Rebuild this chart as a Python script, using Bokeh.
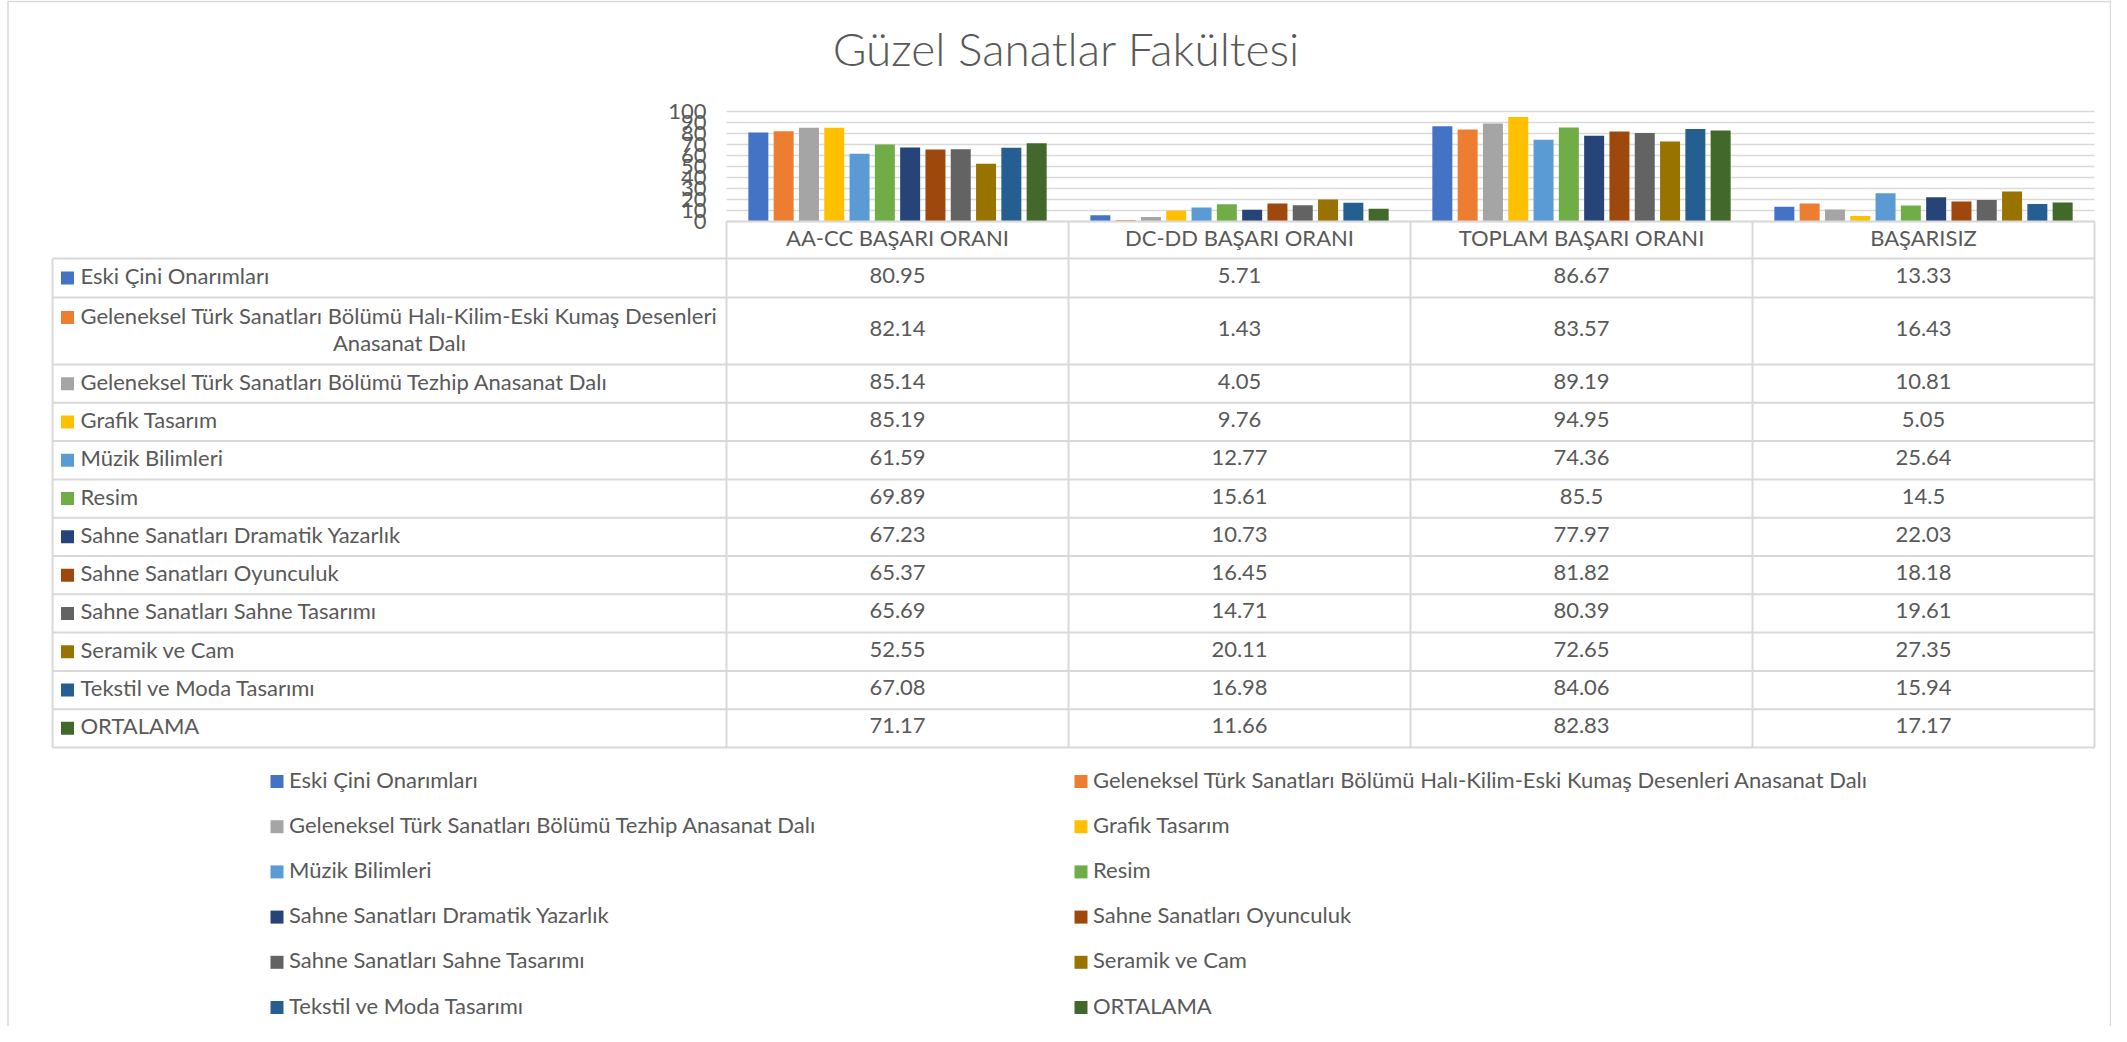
from bokeh.plotting import figure
from bokeh.models import Range1d
from bokeh.core.properties import value
from bokeh.embed import file_html
from bokeh.resources import INLINE

# ---------------- data ----------------
title_text = "Güzel Sanatlar Fakültesi"
categories = ["AA-CC BAŞARI ORANI", "DC-DD BAŞARI ORANI", "TOPLAM BAŞARI ORANI", "BAŞARISIZ"]
series = [
    "Eski Çini Onarımları",
    "Geleneksel Türk Sanatları Bölümü Halı-Kilim-Eski Kumaş Desenleri Anasanat Dalı",
    "Geleneksel Türk Sanatları Bölümü Tezhip Anasanat Dalı",
    "Grafik Tasarım",
    "Müzik Bilimleri",
    "Resim",
    "Sahne Sanatları Dramatik Yazarlık",
    "Sahne Sanatları Oyunculuk",
    "Sahne Sanatları Sahne Tasarımı",
    "Seramik ve Cam",
    "Tekstil ve Moda Tasarımı",
    "ORTALAMA",
]
aa_cc = [80.95, 82.14, 85.14, 85.19, 61.59, 69.89, 67.23, 65.37, 65.69, 52.55, 67.08, 71.17]
dc_dd = [5.71, 1.43, 4.05, 9.76, 12.77, 15.61, 10.73, 16.45, 14.71, 20.11, 16.98, 11.66]
toplam = [86.67, 83.57, 89.19, 94.95, 74.36, 85.5, 77.97, 81.82, 80.39, 72.65, 84.06, 82.83]
basarisiz = [13.33, 16.43, 10.81, 5.05, 25.64, 14.5, 22.03, 18.18, 19.61, 27.35, 15.94, 17.17]
y_ticks = [0, 10, 20, 30, 40, 50, 60, 70, 80, 90, 100]
y_tick_labels = ["0", "10", "20", "30", "40", "50", "60", "70", "80", "90", "100"]

colors = ["#4472C4", "#ED7D31", "#A5A5A5", "#FFC000", "#5B9BD5", "#70AD47",
          "#264478", "#9E480E", "#636363", "#997300", "#255E91", "#43682B"]

columns = [aa_cc, dc_dd, toplam, basarisiz]

# ---------------- layout ----------------
W, H = 2111, 1026
OX, OY = 0, 0
PX0, PX1 = 726, 2094          # plot area left/right
PY0, PY1 = 221, 111           # y pixel of value 0 / value 100
TABLE_X0 = 52
ROW_EDGES = [258, 297, 364]
for _ in range(10):
    ROW_EDGES.append(ROW_EDGES[-1] + 38.3)
BAR_PITCH = 25.3
BAR_W = 20.0
FONT = value("Lato")
TXT = "#595959"
LINE = "#D9D9D9"
FS = "22px"
DY = -2.5   # optical text shift

ppu = (PY0 - PY1) / 100.0
val_start = -((OY + H) - PY0) / ppu
val_end = 100 + (PY1 - OY) / ppu
cw = (PX1 - PX0) / len(categories)
cat_start = (OX - PX0) / cw
cat_end = (OX + W - PX0) / cw

p = figure(width=W, height=H, x_range=Range1d(OX, OX + W), y_range=Range1d(OY + H, OY),
           output_backend="svg", toolbar_location=None, min_border=0)
p.axis.visible = False
p.grid.visible = False
p.outline_line_color = None
p.background_fill_color = "white"
p.extra_y_ranges = {"val": Range1d(val_start, val_end)}
p.extra_x_ranges = {"cat": Range1d(cat_start, cat_end)}

# chart border (left, top, right)
p.segment(x0=[7.5, 7.5, OX + W - 1], x1=[7.5, OX + W - 1, OX + W - 1],
          y0=[OY, OY + 1, OY], y1=[OY + H, OY + 1, OY + H], line_color=LINE, line_width=1.5)

# title
p.text(x=[1066], y=[48], text=[title_text], text_font=value("Lato Light"),
       text_font_size="46px", text_color=TXT, text_align="center", text_baseline="middle")

# gridlines
ncat = len(categories)
p.segment(x0=[0] * len(y_ticks), x1=[ncat] * len(y_ticks), y0=y_ticks, y1=y_ticks,
          x_range_name="cat", y_range_name="val", line_color=LINE, line_width=1.5)

# tick labels
p.text(x=[706] * len(y_ticks), y=y_ticks, text=y_tick_labels, y_range_name="val",
       text_font=FONT, text_font_size=FS, text_color=TXT, text_align="right",
       text_baseline="middle")

# bars
n = len(series)
bx, bt, bc = [], [], []
for ci, col in enumerate(columns):
    for si, v in enumerate(col):
        bx.append(ci + 0.5 + (si - (n - 1) / 2) * BAR_PITCH / cw)
        bt.append(v)
        bc.append(colors[si])
p.vbar(x=bx, top=bt, bottom=0, width=BAR_W / cw, fill_color=bc, line_color=None,
       x_range_name="cat", y_range_name="val")

# table lines
col_edges = [PX0 + i * cw for i in range(ncat + 1)]
hx0, hx1, hy0, hy1 = [], [], [], []
hx0.append(PX0); hx1.append(PX1); hy0.append(PY0); hy1.append(PY0)
for ye in ROW_EDGES:
    hx0.append(TABLE_X0); hx1.append(PX1); hy0.append(ye); hy1.append(ye)
for xe in col_edges:
    hx0.append(xe); hx1.append(xe); hy0.append(PY0); hy1.append(ROW_EDGES[-1])
hx0.append(TABLE_X0); hx1.append(TABLE_X0); hy0.append(ROW_EDGES[0]); hy1.append(ROW_EDGES[-1])
p.segment(x0=hx0, x1=hx1, y0=hy0, y1=hy1, line_color=LINE, line_width=2)

# header texts
p.text(x=[PX0 + (i + 0.5) * cw for i in range(ncat)],
       y=[(PY0 + ROW_EDGES[0]) / 2 + DY] * ncat,
       text=categories, text_font=FONT, text_font_size=FS, text_color=TXT,
       text_align="center", text_baseline="middle")

# row texts
rc = [(ROW_EDGES[i] + ROW_EDGES[i + 1]) / 2 for i in range(n)]
vx, vy, vt = [], [], []
for ci, col in enumerate(columns):
    for si, v in enumerate(col):
        vx.append(PX0 + (ci + 0.5) * cw)
        vy.append(rc[si] + DY)
        vt.append(str(v))
p.text(x=vx, y=vy, text=vt, text_font=FONT, text_font_size=FS, text_color=TXT,
       text_align="center", text_baseline="middle")

# row labels (with wrap for the long one)
lx, ly, lt, la = [], [], [], []
mky = []
for si, s in enumerate(series):
    if si == 1:
        words = s.split(" ")
        l1 = " ".join(words[:-2])
        l2 = " ".join(words[-2:])
        lx += [80, 399]; ly += [rc[si] - 13.5 + DY, rc[si] + 13.5 + DY]; lt += [l1, l2]
        la += ["left", "center"]
        mky.append(rc[si] - 13.5)
    else:
        lx.append(80); ly.append(rc[si] + DY); lt.append(s); la.append("left")
        mky.append(rc[si])
p.text(x=lx, y=ly, text=lt, text_align=la, text_font=FONT, text_font_size=FS,
       text_color=TXT, text_baseline="middle")
p.rect(x=[67] * n, y=mky, width=13, height=13, width_units="screen", height_units="screen",
       fill_color=colors, line_color=None)

# legend (two columns)
lgx, lgy, lgt, mkx, mkyy = [], [], [], [], []
for si, s in enumerate(series):
    r = si // 2
    c = si % 2
    yy = 781 + r * 45.2
    xx = 276.5 if c == 0 else 1080.5
    mkx.append(xx); mkyy.append(yy)
    lgx.append(xx + 12); lgy.append(yy + DY); lgt.append(s)
p.rect(x=mkx, y=mkyy, width=13, height=13, width_units="screen", height_units="screen",
       fill_color=colors, line_color=None)
p.text(x=lgx, y=lgy, text=lgt, text_font=FONT, text_font_size=FS, text_color=TXT,
       text_align="left", text_baseline="middle")

open("out.html", "w").write(file_html(p, INLINE))
